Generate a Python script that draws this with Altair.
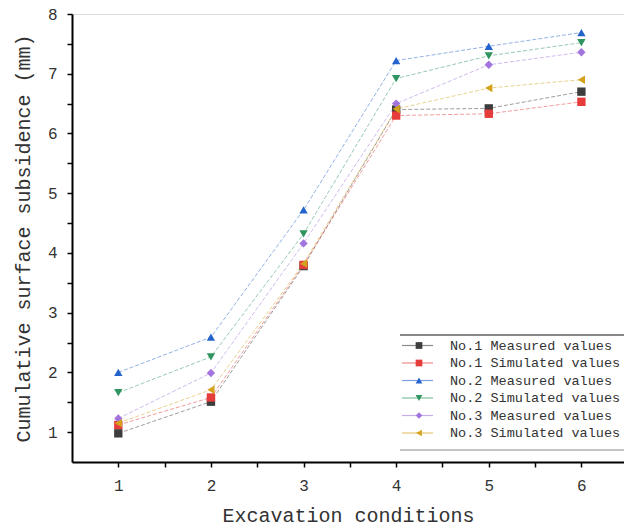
import altair as alt
import pandas as pd

conditions = [1, 2, 3, 4, 5, 6]
series_names = [
    "No.1 Measured values",
    "No.1 Simulated values",
    "No.2 Measured values",
    "No.2 Simulated values",
    "No.3 Measured values",
    "No.3 Simulated values",
]
no1_measured = [0.98, 1.51, 3.78, 6.40, 6.42, 6.70]
no1_simulated = [1.12, 1.58, 3.80, 6.30, 6.33, 6.53]
no2_measured = [2.00, 2.59, 4.72, 7.22, 7.46, 7.69]
no2_simulated = [1.66, 2.26, 4.32, 6.92, 7.30, 7.52]
no3_measured = [1.23, 1.99, 4.16, 6.50, 7.15, 7.36]
no3_simulated = [1.15, 1.71, 3.82, 6.41, 6.76, 6.90]

colors = ["#3d3d3d", "#e63c3c", "#2563cc", "#2f9460", "#a274de", "#d4a31c"]
shapes = ["square", "square", "triangle-up", "triangle-down", "diamond", "triangle-left"]

all_values = [no1_measured, no1_simulated, no2_measured, no2_simulated, no3_measured, no3_simulated]
rows = []
for name, vals in zip(series_names, all_values):
    for c, v in zip(conditions, vals):
        rows.append({"series": name, "x": c, "y": v})
df = pd.DataFrame(rows)

FONT = "Liberation Mono"
W, H = 552, 448

color_scale = alt.Scale(domain=series_names, range=colors)
shape_scale = alt.Scale(domain=series_names, range=shapes)

xs = alt.Scale(domain=[0.5, 6.46], nice=False, zero=False)
ys = alt.Scale(domain=[0.5, 8], nice=False, zero=False)

LBL = "datum.value % 1 == 0 ? format(datum.value, 'd') : ''"

x_axis = alt.Axis(
    values=[1, 1.5, 2, 2.5, 3, 3.5, 4, 4.5, 5, 5.5, 6],
    labelExpr=LBL,
    title="Excavation conditions", grid=False,
    domainColor="black", domainWidth=2, tickColor="black", tickWidth=1.5, tickSize=5,
    labelFont=FONT, labelFontSize=16, labelColor="#333", labelPadding=10,
    titleFont=FONT, titleFontSize=20, titleFontWeight="normal", titleColor="#333", titlePadding=12,
)
y_axis = alt.Axis(
    values=[1, 1.5, 2, 2.5, 3, 3.5, 4, 4.5, 5, 5.5, 6, 6.5, 7, 7.5, 8],
    labelExpr=LBL,
    title="Cumulative surface subsidence (mm)", grid=False,
    domainColor="black", domainWidth=2, tickColor="black", tickWidth=1.5, tickSize=5,
    labelFont=FONT, labelFontSize=16, labelColor="#333", labelPadding=10,
    titleFont=FONT, titleFontSize=20, titleFontWeight="normal", titleColor="#333", titlePadding=14,
)

base = alt.Chart(df).encode(
    x=alt.X("x:Q", scale=xs, axis=x_axis),
    color=alt.Color("series:N", scale=color_scale, legend=None),
)
lines = base.mark_line(strokeWidth=1, strokeDash=[4, 2], opacity=0.5).encode(
    y=alt.Y("y:Q", scale=ys, axis=y_axis), detail="series:N"
)
points = base.mark_point(filled=True, size=70, opacity=1).encode(
    y=alt.Y("y:Q", scale=ys, axis=y_axis),
    shape=alt.Shape("series:N", scale=shape_scale, legend=None),
)
main = alt.layer(lines, points)

# custom legend
leg = pd.DataFrame({
    "series": series_names,
    "py": [331.5 + 17.5 * i for i in range(len(series_names))],
})
lys = alt.Scale(domain=[0, H], range=[0, H], nice=False, zero=False)
lbase = alt.Chart(leg).encode(
    y=alt.Y("py:Q", scale=lys, axis=None),
    color=alt.Color("series:N", scale=color_scale, legend=None),
)
leg_lines = lbase.mark_rule(strokeWidth=1.2, opacity=0.6).encode(x=alt.value(330), x2=alt.value(361))
leg_pts = lbase.mark_point(filled=True, size=45, opacity=1).encode(
    x=alt.value(347), shape=alt.Shape("series:N", scale=shape_scale, legend=None)
)
leg_text = lbase.mark_text(align="left", baseline="middle", font=FONT, fontSize=13.5, color="#333").encode(
    x=alt.value(378), text="series:N", color=alt.value("#333")
)
frame = pd.DataFrame({"py": [321, 436], "w": [2, 1]})
leg_frame = alt.Chart(frame).mark_rule(color="#888").encode(
    y=alt.Y("py:Q", scale=lys, axis=None), x=alt.value(328), x2=alt.value(552),
    strokeWidth=alt.StrokeWidth("w:Q", scale=None, legend=None),
)
legend = alt.layer(leg_frame, leg_lines, leg_pts, leg_text)

chart = alt.layer(main, legend).resolve_scale(y="independent").properties(
    width=W, height=H,
    autosize=alt.AutoSizeParams(type="none"),
    padding={"left": 72, "top": 14, "right": 0, "bottom": 67},
).configure_view(stroke=None).configure(background="white")

chart.save("out.html", embed_options={"renderer": "svg", "actions": False})
